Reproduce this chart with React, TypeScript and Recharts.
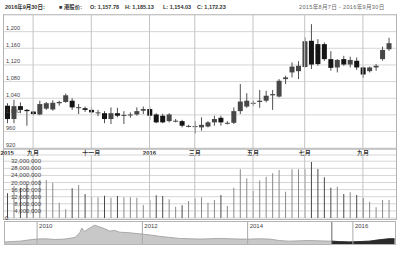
import React from 'react';
import { ComposedChart, BarChart, Bar, Cell, XAxis, YAxis, CartesianGrid, ReferenceLine, AreaChart, Area } from 'recharts';

const W = 400;
const H = 253;

// weekly candles, 2015-08-07 .. 2016-09-30
const opens = [1022, 990, 1021, 1012, 1008, 1001, 1015, 1013, 1028, 1031, 1034, 1018, 1016, 1012, 1005, 1004, 990, 1004, 999, 1000, 1001, 1010, 1014, 1001, 998, 985, 985, 985, 973, 972, 970, 972, 982, 993, 980, 981, 1009, 1020, 1028, 1031, 1034, 1047, 1044, 1086, 1102, 1105, 1115, 1178, 1170, 1170, 1134, 1114, 1134, 1121, 1130, 1114, 1105, 1114, 1134, 1157.78];
const highs = [1028, 1036, 1030, 1014, 1010, 1034, 1031, 1035, 1034, 1051, 1040, 1026, 1020, 1018, 1012, 1009, 1018, 1017, 1009, 1006, 1018, 1020, 1020, 1004, 1003, 1004, 990, 988, 976, 985, 994, 985, 998, 998, 985, 1018, 1074, 1052, 1034, 1060, 1058, 1060, 1086, 1094, 1126, 1129, 1186, 1218, 1182, 1174, 1153, 1134, 1142, 1140, 1138, 1116, 1116, 1122, 1164, 1185.13];
const lows = [980, 980, 1004, 974, 999, 999, 1012, 1010, 1022, 1029, 1012, 1002, 1007, 1003, 997, 980, 978, 994, 978, 993, 998, 1002, 988, 980, 980, 982, 982, 970, 970, 955, 962, 970, 974, 974, 977, 978, 1002, 1017, 1022, 1017, 1030, 1012, 1042, 1074, 1090, 1086, 1114, 1110, 1118, 1130, 1106, 1102, 1118, 1114, 1108, 1089, 1102, 1106, 1130, 1154.03];
const closes = [990, 1021, 1012, 1009, 1002, 1026, 1028, 1029, 1031, 1047, 1018, 1018.5, 1012, 1006, 1006, 990, 1004, 998, 1000, 1001, 1009, 1014, 998, 982, 982, 1001, 986, 974, 973.5, 973, 976, 982, 990, 982, 981, 1009, 1032, 1034, 1029, 1034, 1046, 1050, 1082, 1090, 1116, 1118, 1177, 1121, 1122, 1134, 1113, 1132, 1121, 1132, 1114, 1097, 1114, 1118, 1156, 1172.23];
const volumes = [13900000, 18000000, 17000000, 19000000, 15000000, 21400000, 21400000, 19900000, 8600000, 4900000, 16700000, 18600000, 13500000, 11700000, 11700000, 12600000, 11400000, 12400000, 11700000, 11700000, 11400000, 7300000, 10100000, 12800000, 12400000, 10500000, 6400000, 7200000, 9600000, 11100000, 11700000, 8600000, 10100000, 13000000, 6800000, 17100000, 27400000, 22400000, 15200000, 21200000, 23300000, 25200000, 27000000, 14800000, 27400000, 27400000, 27400000, 31500000, 27600000, 22900000, 17100000, 17600000, 13500000, 14500000, 13000000, 11300000, 9200000, 6000000, 10100000, 10100000];

const monthTickIdx = [0, 4, 13, 22, 29, 38, 46, 55];
const monthTickLabels = ['2015', '九月', '十一月', '2016', '三月', '五月', '七月', '九月'];

const priceTicks = [920, 960, 1000, 1040, 1080, 1120, 1160, 1200];
const volumeTicks = [0, 4000000, 8000000, 12000000, 16000000, 20000000, 24000000, 28000000, 32000000];

// navigator (long history)
const navYears = [2009.39, 2009.67, 2009.86, 2010.0, 2010.15, 2010.34, 2010.53, 2010.72, 2010.81, 2010.85, 2010.9, 2010.96, 2011.09, 2011.19, 2011.28, 2011.38, 2011.47, 2011.57, 2011.76, 2011.95, 2012.14, 2012.33, 2012.52, 2012.71, 2012.9, 2013.09, 2013.28, 2013.47, 2013.66, 2013.85, 2014.04, 2014.23, 2014.42, 2014.6, 2014.79, 2014.98, 2015.17, 2015.36, 2015.6, 2015.74, 2015.93, 2016.12, 2016.31, 2016.5, 2016.68, 2016.79];
const navValues = [2.0, 2.7, 4.0, 4.7, 5.0, 4.3, 4.7, 6.3, 10.7, 15.3, 12.0, 14.0, 18.0, 16.3, 14.7, 12.3, 13.0, 11.3, 10.7, 9.7, 8.7, 7.3, 6.3, 5.3, 5.0, 4.7, 5.0, 5.3, 5.0, 4.7, 4.7, 5.0, 4.7, 3.3, 2.7, 3.0, 3.3, 3.0, 2.7, 2.3, 2.0, 2.3, 2.7, 4.0, 5.0, 5.0];
const navRangeStart = 2015.6;
const navYearTicks = [2010, 2012, 2014, 2016];

const candles = opens.map((o, i) => ({
  idx: i,
  o,
  h: highs[i],
  l: lows[i],
  c: closes[i],
  range: [lows[i], highs[i]],
  vol: volumes[i],
}));

const navData = navYears.map((yr, i) => ({
  yr,
  v: navValues[i],
  sel: yr >= navRangeStart ? navValues[i] : null,
}));

const FONT = "'Liberation Sans', 'Noto Sans CJK SC', sans-serif";
const fmt = (n: number) => n.toLocaleString('en-US');

const Candle = (props: any) => {
  const { x, y, width, height, payload } = props;
  if (!payload) return null;
  const { o, h, l, c } = payload;
  const top0 = Math.min(y, y + height);
  const hgt = Math.abs(height);
  const ratio = hgt / Math.max(h - l, 1e-6);
  const cx = x + width / 2;
  const bTop = top0 + (h - Math.max(o, c)) * ratio;
  const bBot = top0 + (h - Math.min(o, c)) * ratio;
  const fill = c >= o ? '#474747' : '#151515';
  return (
    <g>
      <line x1={cx} x2={cx} y1={top0} y2={top0 + hgt} stroke="#505050" strokeWidth={1} />
      <rect x={x} y={bTop} width={width} height={Math.max(bBot - bTop, 1)} fill={fill} />
    </g>
  );
};

const DateTick = (props: any) => {
  const { x, payload } = props;
  const k = monthTickIdx.indexOf(payload.value);
  return (
    <text x={x} y={154.5} textAnchor="middle" fontSize={6} fontWeight="bold" fill="#333" fontFamily={FONT}>
      {k >= 0 ? monthTickLabels[k] : ''}
    </text>
  );
};

const PriceTick = (props: any) => {
  const { y, payload } = props;
  return (
    <text x={6} y={y - 1.5} fontSize={5.6} fill="#444" fontFamily={FONT}>
      {fmt(payload.value)}
    </text>
  );
};

const VolTick = (props: any) => {
  const { y, payload } = props;
  const zero = payload.value === 0;
  return (
    <text x={zero ? 5 : 41} y={y} dy={2} textAnchor={zero ? 'start' : 'end'} fontSize={6} fill="#444" fontFamily={FONT}>
      {fmt(payload.value)}
    </text>
  );
};

const hdr = { position: 'absolute' as const, top: 0 };

export default function App() {
  return (
    <div style={{ position: 'absolute', left: 0, top: 0, width: W, height: H, background: '#fff', fontFamily: FONT, overflow: 'hidden' }}>
      {/* header */}
      <div style={{ position: 'absolute', left: 0, top: 3, width: W, height: 9, fontSize: 5.5, fontWeight: 'bold', color: '#333', whiteSpace: 'pre', lineHeight: '8px' }}>
        <span style={{ ...hdr, left: 5 }}>2016年9月30日:</span>
        <span style={{ ...hdr, left: 59 }}>■ 港股价:</span>
        <span style={{ ...hdr, left: 90 }}>O: 1,157.78</span>
        <span style={{ ...hdr, left: 125 }}>H: 1,185.13</span>
        <span style={{ ...hdr, left: 163 }}>L: 1,154.03</span>
        <span style={{ ...hdr, left: 197 }}>C: 1,172.23</span>
      </div>
      <div style={{ position: 'absolute', left: 299, top: 3, fontSize: 5.6, color: '#666', whiteSpace: 'pre', lineHeight: '8px', letterSpacing: 0.3 }}>
        2015年8月7日 - 2016年9月30日
      </div>

      {/* frames */}
      <div style={{ position: 'absolute', left: 3, top: 14, width: 394, height: 206, border: '1px solid #b4b4b4', boxSizing: 'border-box' }} />
      <div style={{ position: 'absolute', left: 4, top: 221, width: 392, height: 24, border: '1px solid #b4b4b4', boxSizing: 'border-box' }} />

      {/* price panel */}
      <div style={{ position: 'absolute', left: 0, top: 0 }}>
        <ComposedChart width={W} height={H} data={candles} margin={{ top: 15, right: 4, bottom: 98, left: 4 }}>
          <CartesianGrid vertical={false} stroke="#d6d6d6" />
          <XAxis dataKey="idx" type="category" ticks={monthTickIdx} interval={0} height={6} tickLine={false}
            axisLine={{ stroke: '#aaa' }} padding={{ left: 0, right: 4 }} tick={<DateTick />} />
          <YAxis domain={[918, 1240]} ticks={priceTicks} mirror width={40} axisLine={false} tickLine={false}
            allowDataOverflow interval={0} tick={<PriceTick />} />
          {monthTickIdx.slice(1).map((m) => (
            <ReferenceLine key={m} x={m} stroke="#c4c4c4" />
          ))}
          <Bar dataKey="range" barSize={5} shape={<Candle />} isAnimationActive={false} />
        </ComposedChart>
      </div>

      {/* volume panel */}
      <div style={{ position: 'absolute', left: 0, top: 0 }}>
        <BarChart width={W} height={H} data={candles} margin={{ top: 155, right: 4, bottom: 35, left: 4 }}>
          <CartesianGrid vertical={false} stroke="#d6d6d6" />
          <XAxis dataKey="idx" type="category" orientation="top" height={0} tick={false} tickLine={false}
            axisLine={{ stroke: '#aaa' }} padding={{ left: 0, right: 4 }} />
          <YAxis domain={[0, 35500000]} ticks={volumeTicks} mirror width={40} axisLine={false} tickLine={false}
            allowDataOverflow interval={0} tick={<VolTick />} />
          {monthTickIdx.slice(1).map((m) => (
            <ReferenceLine key={m} x={m} stroke="#c4c4c4" />
          ))}
          <Bar dataKey="vol" barSize={1} isAnimationActive={false}>
            {candles.map((d) => (
              <Cell key={d.idx} fill={d.c >= d.o ? '#8a8a8a' : '#4a4a4a'} />
            ))}
          </Bar>
        </BarChart>
      </div>

      {/* navigator */}
      <div style={{ position: 'absolute', left: 0, top: 0 }}>
        <AreaChart width={W} height={H} data={navData} margin={{ top: 222, right: 5, bottom: 9, left: 5 }}>
          <XAxis dataKey="yr" type="number" domain={[2009.39, 2016.8]} hide allowDataOverflow />
          <YAxis domain={[0, 21]} hide />
          <Area type="linear" dataKey="v" stroke="#9a9a9a" strokeWidth={0.8} fill="#c8c8c8" fillOpacity={1} isAnimationActive={false} />
          <Area type="linear" dataKey="sel" stroke="#222" strokeWidth={0.8} fill="#2a2a2a" fillOpacity={1} isAnimationActive={false} />
          {navYearTicks.map((yr) => (
            <ReferenceLine key={yr} x={yr} stroke="#aaa"
              label={{ value: String(yr), position: 'insideTopLeft', offset: 2, fontSize: 6, fill: '#444', fontFamily: FONT }} />
          ))}
          <ReferenceLine x={navRangeStart} stroke="#666" />
        </AreaChart>
      </div>
    </div>
  );
}
